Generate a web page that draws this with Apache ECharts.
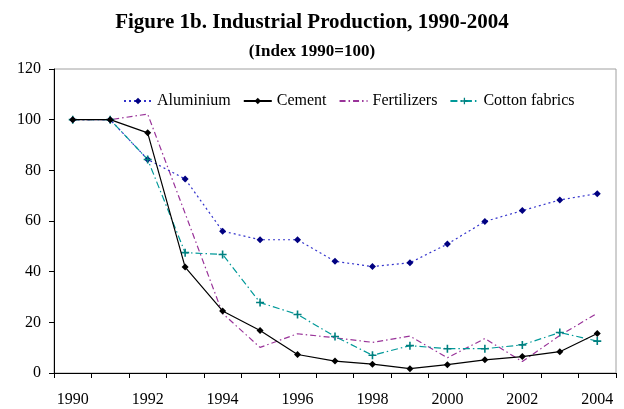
<!DOCTYPE html>
<html>
<head>
<meta charset="utf-8">
<script src="https://cdn.jsdelivr.net/npm/echarts@6/dist/echarts.min.js"></script>
<style>html,body{margin:0;padding:0;background:#fff;}#c{width:624px;height:409px;}</style>
</head>
<body>
<div id="c"></div>
<script>
const years = ['1990','1991','1992','1993','1994','1995','1996','1997','1998','1999','2000','2001','2002','2003','2004'];
const aluminium = [100,100,84.3,76.6,56,52.6,52.6,44.1,42,43.5,50.9,59.8,64.1,68.3,70.8];
const cement = [100,100,94.8,41.8,24.5,16.8,7.3,4.7,3.5,1.7,3.3,5.2,6.5,8.4,15.6];
const fertilizers = [100,100,102.2,63,23.5,10.1,15.5,13.9,12.1,14.6,6.0,13.6,4.5,14.8,23.6];
const cotton = [100,100,84.3,47.5,46.8,27.8,23.1,14.4,7.0,10.8,9.6,9.6,11.1,16.0,12.6];
const yTicks = {min:0, max:120, interval:20};

const font = '"Liberation Serif", "Times New Roman", serif';
const plus = 'path://M4,0H6V4H10V6H6V10H4V6H0V4H4Z';
const chart = echarts.init(document.getElementById('c'));
chart.setOption({
  animation:false,
  backgroundColor:'#fff',
  title:[
    {text:'Figure 1b. Industrial Production, 1990-2004', left:'center', top:7,
     textStyle:{fontFamily:font, fontWeight:'bold', fontSize:21, color:'#000'}},
    {text:'(Index 1990=100)', left:'center', top:38,
     textStyle:{fontFamily:font, fontWeight:'bold', fontSize:17, color:'#000'}}
  ],
  legend:{
    left:118, top:88, itemWidth:28, itemHeight:8, itemGap:12,
    textStyle:{fontFamily:font, fontSize:16, color:'#000'},
    data:['Aluminium','Cement',{name:'Fertilizers', itemStyle:{opacity:0}},'Cotton fabrics']
  },
  grid:{left:54, right:8, top:69, bottom:36, show:true, borderColor:'#a0a0a0', borderWidth:1},
  xAxis:{
    type:'category', data:years, boundaryGap:true,
    axisLine:{lineStyle:{color:'#000', width:1}},
    axisTick:{show:true, interval:0, inside:false, length:5, lineStyle:{color:'#000'}},
    axisLabel:{interval:1, margin:19, fontFamily:font, fontSize:16, color:'#000'},
    splitLine:{show:false}
  },
  yAxis:{
    type:'value', min:yTicks.min, max:yTicks.max, interval:yTicks.interval,
    axisLine:{show:true, lineStyle:{color:'#000', width:1}},
    axisTick:{show:true, inside:false, length:5, lineStyle:{color:'#000'}},
    axisLabel:{margin:13, fontFamily:font, fontSize:16, color:'#000'},
    splitLine:{show:false}
  },
  series:[
    {name:'Aluminium', type:'line', data:aluminium, symbol:'diamond', symbolSize:7,
     itemStyle:{color:'#000080'}, lineStyle:{color:'#3333cc', width:1.2, type:[2,3]}, z:4},
    {name:'Cement', type:'line', data:cement, symbol:'diamond', symbolSize:7,
     itemStyle:{color:'#000'}, lineStyle:{color:'#000', width:1.2, type:'solid'}, z:5},
    {name:'Fertilizers', type:'line', data:fertilizers, symbol:'circle', showSymbol:false,
     itemStyle:{color:'#993399'}, lineStyle:{color:'#993399', width:1.2, type:[6,3,1.5,3]}, z:3},
    {name:'Cotton fabrics', type:'line', data:cotton, symbol:plus, symbolSize:8,
     itemStyle:{color:'#008080'}, lineStyle:{color:'#009999', width:1.2, type:[7,3,1.5,3]}, z:4}
  ]
});
</script>
</body>
</html>
